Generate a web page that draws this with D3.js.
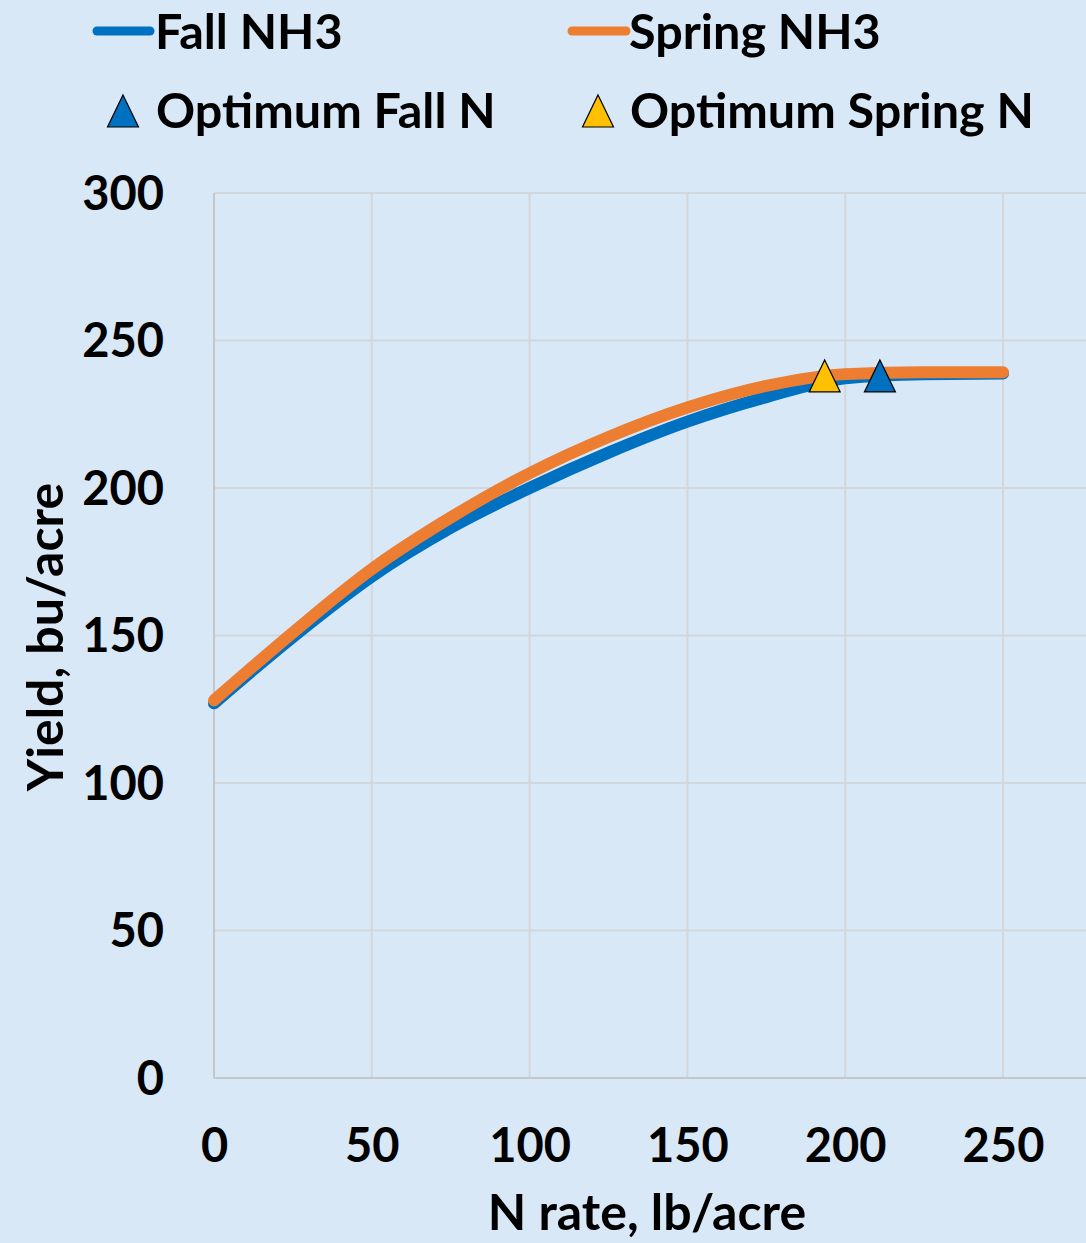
<!DOCTYPE html>
<html>
<head>
<meta charset="utf-8">
<script src="https://cdn.jsdelivr.net/npm/d3@7"></script>
<style>
  html, body { margin: 0; padding: 0; background: #d9e8f6; }
  svg { display: block; }
  text { font-family: Lato, "Open Sans", sans-serif; font-weight: 700; fill: #000; }
</style>
</head>
<body>
<div id="chart"></div>
<script>
// ---- data ----
const nRates = [0, 25, 50, 75, 100, 125, 150, 175, 200, 225, 250];
const fallYield   = [127, 149.5, 170, 186.5, 200, 212, 222.5, 230.8, 237.2, 238.6, 238.8];
const springYield = [128, 151, 172.5, 190, 205, 217.3, 227.3, 234.6, 238.6, 239.2, 239.2];
const optimumFall   = { n: 211,   y: 238 };
const optimumSpring = { n: 193.5, y: 238 };
const xTicks = [0, 50, 100, 150, 200, 250];
const yTicks = [0, 50, 100, 150, 200, 250, 300];
const seriesNames = ["Fall NH3", "Spring NH3", "Optimum Fall N", "Optimum Spring N"];
const xTitle = "N rate, lb/acre";
const yTitle = "Yield, bu/acre";

// ---- layout ----
const W = 1086, H = 1243;
const colors = { fall: "#0070C0", spring: "#ED7D31", springOpt: "#FFC000" };

const svg = d3.select("#chart").append("svg")
  .attr("width", W).attr("height", H);

svg.append("rect").attr("width", W).attr("height", H).attr("fill", "#d9e8f6");

const x = d3.scaleLinear().domain([0, 300]).range([214, 214 + 300 * (789 / 250)]);
const y = d3.scaleLinear().domain([0, 300]).range([1078, 193]);

// gridlines
const grid = svg.append("g");
grid.selectAll("line.h").data(yTicks).join("line")
  .attr("x1", x(0)).attr("x2", W)
  .attr("y1", d => y(d)).attr("y2", d => y(d))
  .attr("stroke", "#d3d6da").attr("stroke-width", 2);
grid.selectAll("line.v").data(xTicks.filter(d => d > 0)).join("line")
  .attr("x1", d => x(d)).attr("x2", d => x(d))
  .attr("y1", y(300)).attr("y2", y(0))
  .attr("stroke", "#d3d6da").attr("stroke-width", 2);
// axis lines
svg.append("line").attr("x1", x(0)).attr("x2", x(0)).attr("y1", y(300)).attr("y2", y(0))
  .attr("stroke", "#c4c6c9").attr("stroke-width", 2);
svg.append("line").attr("x1", x(0)).attr("x2", W).attr("y1", y(0)).attr("y2", y(0))
  .attr("stroke", "#c4c6c9").attr("stroke-width", 2);

// axes (labels only)
const yAxis = d3.axisLeft(y).tickValues(yTicks).tickSize(0).tickPadding(50);
const gy = svg.append("g").attr("transform", `translate(${x(0)},0)`).call(yAxis);
gy.select(".domain").remove();
gy.selectAll("text").style("font-size", "47px").attr("dy", "0.35em")
  .style("font-family", "Lato, sans-serif").style("font-weight", 700).attr("fill", "#000");

const xAxis = d3.axisBottom(x).tickValues(xTicks).tickSize(0).tickPadding(51);
const gx = svg.append("g").attr("transform", `translate(0,${y(0)})`).call(xAxis);
gx.select(".domain").remove();
gx.selectAll("text").style("font-size", "47px")
  .style("font-family", "Lato, sans-serif").style("font-weight", 700).attr("fill", "#000");

// axis titles
svg.append("text").attr("x", 647).attr("y", 1230).attr("text-anchor", "middle")
  .style("font-size", "50px").text(xTitle);
svg.append("text").attr("transform", "translate(63,637) rotate(-90)")
  .attr("text-anchor", "middle").style("font-size", "50px").text(yTitle);

// curves
const line = d3.line().x(d => x(d[0])).y(d => y(d[1])).curve(d3.curveMonotoneX);
const fallPts = nRates.map((n, i) => [n, fallYield[i]]);
const springPts = nRates.map((n, i) => [n, springYield[i]]);
svg.append("path").datum(fallPts).attr("d", line).attr("fill", "none")
  .attr("stroke", colors.fall).attr("stroke-width", 12).attr("stroke-linecap", "round");
svg.append("path").datum(springPts).attr("d", line).attr("fill", "none")
  .attr("stroke", colors.spring).attr("stroke-width", 12).attr("stroke-linecap", "round");

// triangles
function tri(sel, cx, cy, fill) {
  sel.append("path")
    .attr("d", `M${cx},${cy - 16}L${cx + 15.5},${cy + 16}L${cx - 15.5},${cy + 16}Z`)
    .attr("fill", fill).attr("stroke", "#000").attr("stroke-width", 1.2);
}
tri(svg, x(optimumSpring.n), y(optimumSpring.y), colors.springOpt);
tri(svg, x(optimumFall.n), y(optimumFall.y), colors.fall);

// legend
const lg = svg.append("g");
const lfs = "48.5px";
lg.append("line").attr("x1", 97).attr("x2", 150).attr("y1", 31).attr("y2", 31)
  .attr("stroke", colors.fall).attr("stroke-width", 9).attr("stroke-linecap", "round");
lg.append("text").attr("x", 155).attr("y", 49).style("font-size", lfs).text(seriesNames[0]);
lg.append("line").attr("x1", 572).attr("x2", 626).attr("y1", 31).attr("y2", 31)
  .attr("stroke", colors.spring).attr("stroke-width", 9).attr("stroke-linecap", "round");
lg.append("text").attr("x", 629).attr("y", 49).style("font-size", lfs).text(seriesNames[1]);
tri(lg, 123, 111, colors.fall);
lg.append("text").attr("x", 156).attr("y", 128).style("font-size", lfs).text(seriesNames[2]);
tri(lg, 598, 111, colors.springOpt);
lg.append("text").attr("x", 630).attr("y", 128).style("font-size", lfs).text(seriesNames[3]);
</script>
</body>
</html>
